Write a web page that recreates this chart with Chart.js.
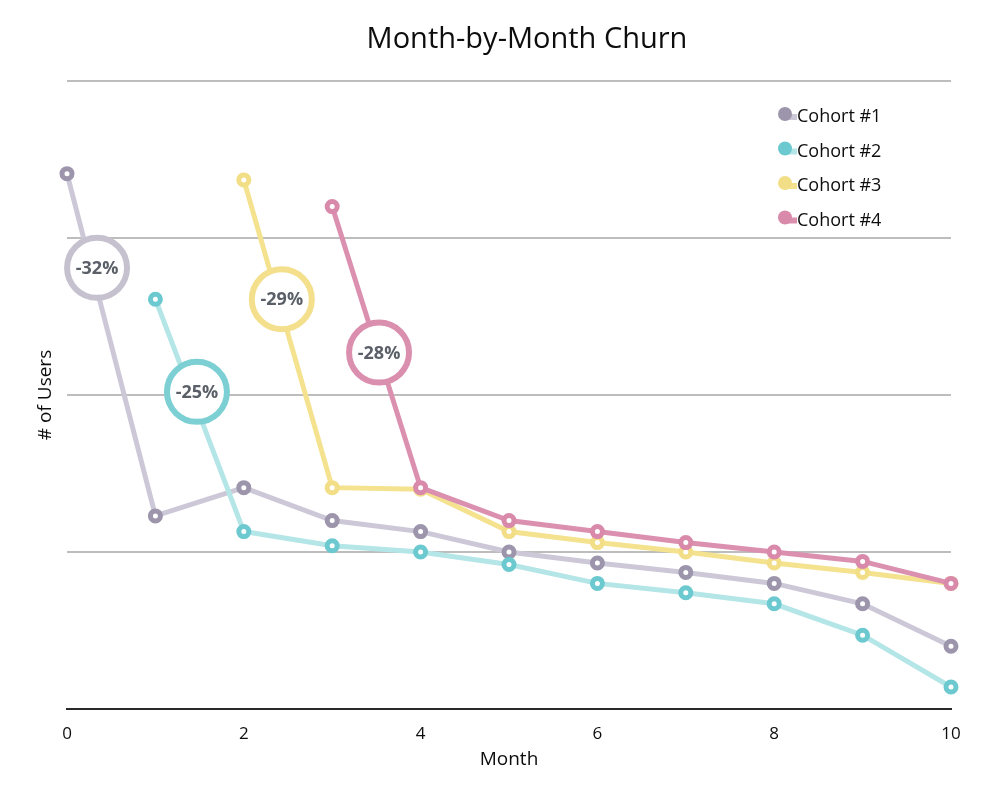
<!DOCTYPE html>
<html>
<head>
<meta charset="utf-8">
<script src="https://cdn.jsdelivr.net/npm/chart.js@4"></script>
<style>
  html, body { margin: 0; padding: 0; background: #fff; }
  #wrap { width: 1000px; height: 794px; }
</style>
</head>
<body>
<div id="wrap"><canvas id="churnChart" width="1000" height="794"></canvas></div>
<script>
// data (y is in gridline units, no tick labels shown)
const months = [0, 1, 2, 3, 4, 5, 6, 7, 8, 9, 10];
const cohort1 = [3.41, 1.23, 1.41, 1.20, 1.13, 1.00, 0.93, 0.87, 0.80, 0.67, 0.40];
const cohort2 = [null, 2.61, 1.13, 1.04, 1.00, 0.92, 0.80, 0.74, 0.67, 0.47, 0.14];
const cohort3 = [null, null, 3.37, 1.41, 1.40, 1.13, 1.06, 1.00, 0.93, 0.87, 0.80];
const cohort4 = [null, null, null, 3.20, 1.41, 1.20, 1.13, 1.06, 1.00, 0.94, 0.80];
const cohortNames = ['Cohort #1', 'Cohort #2', 'Cohort #3', 'Cohort #4'];
const churnLabels = ['-32%', '-25%', '-29%', '-28%'];
const churnX = [0.34, 1.47, 2.43, 3.53];
const churnY = [2.81, 2.02, 2.61, 2.27];

const lineColors = ['#cdc8d7', '#b4e5e7', '#f4e28f', '#dc90b0'];
const markColors = ['#9c95ab', '#6bc9cf', '#f3de88', '#d98aab'];
const ringColors = ['#c6c1cf', '#7ccfd3', '#f3df8c', '#db8fae'];
const FONT = '"Open Sans"';
const TEXT = '#0d0d0d';

function toPoints(values) {
    return months.map((m, i) => ({ x: m, y: values[i] })).filter(p => p.y !== null);
}

const series = [cohort1, cohort2, cohort3, cohort4];
const datasets = series.map((vals, i) => ({
    label: cohortNames[i],
    data: toPoints(vals),
    borderColor: lineColors[i],
    borderWidth: 5,
    pointRadius: 5,
    pointBorderWidth: 5,
    pointBackgroundColor: '#fff',
    pointBorderColor: markColors[i],
    tension: 0,
    clip: false,
    order: 4 - i
}));

// churn bubbles on the first drop of each cohort
churnLabels.forEach((txt, i) => {
    datasets.push({
        label: 'churn' + i,
        type: 'scatter',
        data: [{ x: churnX[i], y: churnY[i] }],
        pointRadius: 30,
        pointBorderWidth: 6,
        pointBackgroundColor: '#fff',
        pointBorderColor: ringColors[i],
        showLine: false,
        clip: false,
        order: -1
    });
});

const extrasPlugin = {
    id: 'extras',
    afterDraw(chart) {
        const ctx = chart.ctx;
        ctx.save();
        // title
        ctx.fillStyle = TEXT;
        ctx.font = '29px ' + FONT;
        ctx.textAlign = 'center';
        ctx.textBaseline = 'middle';
        ctx.fillText('Month-by-Month Churn', 527, 40);

        // percentages inside bubbles
        ctx.font = 'bold 18px ' + FONT;
        ctx.fillStyle = '#5b6068';
        churnLabels.forEach((txt, i) => {
            const meta = chart.getDatasetMeta(series.length + i);
            const pt = meta.data[0];
            ctx.fillText(txt, pt.x, pt.y + 1);
        });

        // legend, top right
        ctx.textAlign = 'left';
        ctx.font = '18px ' + FONT;
        cohortNames.forEach((name, i) => {
            const y = 116 + i * 34.5;
            ctx.fillStyle = lineColors[i];
            ctx.fillRect(785, y - 2, 12, 6);
            ctx.beginPath();
            ctx.arc(785, y - 2, 7, 0, Math.PI * 2);
            ctx.fillStyle = markColors[i];
            ctx.fill();
            ctx.fillStyle = TEXT;
            ctx.fillText(name, 797, y + 1);
        });
        ctx.restore();
    }
};

const ctx = document.getElementById('churnChart').getContext('2d');
new Chart(ctx, {
    type: 'line',
    data: { datasets: datasets },
    options: {
        responsive: false,
        animation: false,
        events: [],
        layout: { padding: { top: 81, right: 49, left: 0, bottom: 0 } },
        plugins: {
            legend: { display: false },
            title: { display: false },
            tooltip: { enabled: false }
        },
        scales: {
            x: {
                type: 'linear',
                min: 0,
                max: 10,
                afterFit(scale) { scale.height = 85; },
                ticks: {
                    stepSize: 2,
                    color: TEXT,
                    font: { family: FONT, size: 17 },
                    padding: 15
                },
                grid: { display: false, drawTicks: false },
                border: { display: true, color: '#2a2a2a', width: 2 },
                title: {
                    display: true,
                    text: 'Month',
                    color: TEXT,
                    font: { family: FONT, size: 19 },
                    padding: { top: 0, bottom: 23 }
                }
            },
            y: {
                min: 0,
                max: 4,
                afterFit(scale) { scale.width = 67; },
                ticks: { display: false, stepSize: 1 },
                grid: { color: '#bdbdbd', lineWidth: 2, drawTicks: false },
                border: { display: false },
                title: {
                    display: true,
                    text: '# of Users',
                    color: TEXT,
                    font: { family: FONT, size: 19 },
                    padding: { top: 34, bottom: 0 }
                }
            }
        }
    },
    plugins: [extrasPlugin]
});
</script>
</body>
</html>
